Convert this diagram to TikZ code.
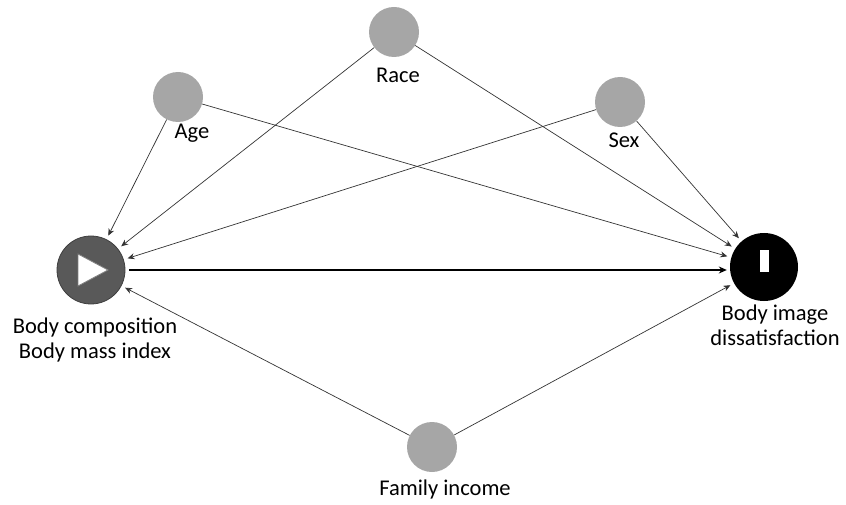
\documentclass[tikz,border=0pt]{standalone}
\usepackage{fontspec}
\setmainfont{Carlito}
\usetikzlibrary{arrows.meta}
\definecolor{cgray}{HTML}{A6A6A6}
\definecolor{expo}{HTML}{595959}
\definecolor{lin}{HTML}{333333}
\begin{document}
\begin{tikzpicture}[x=1pt,y=-1pt,
  cov/.style={circle,fill=cgray,minimum size=50pt,inner sep=0pt},
  lbl/.style={font=\fontsize{22.5}{25}\selectfont,align=center,inner sep=0pt},
  edge/.style={-{Stealth[length=7pt,width=6pt]},draw=lin,line width=0.7pt,shorten >=4pt},
  mainedge/.style={-{Stealth[length=8pt,width=7pt]},draw=black,line width=2pt,shorten >=3pt,shorten <=4pt}]
\useasboundingbox (0,0) rectangle (846,505);
\node[circle,fill=expo,draw=expo!70!black,line width=0.8pt,minimum size=68pt,inner sep=0pt] (X) at (91,270) {};
\fill[white,draw=gray,line width=0.8pt] (78,254) -- (78,286) -- (108,270) -- cycle;
\node[circle,fill=black,minimum size=68pt,inner sep=0pt] (Y) at (764,267) {};
\fill[white] (759.5,250) rectangle (768.5,272);
\node[cov] (race) at (394,32) {};
\node[cov] (age) at (178,97) {};
\node[cov] (sex) at (620,102) {};
\node[cov] (inc) at (432,447) {};
\node[lbl] (racel) at (398,75) {Race};
\node[lbl] (agel) at (192,133) {Age};
\node[lbl] (sexl) at (624,140) {Sex};
\node[lbl] (incl) at (445,489) {Family income};
\node[lbl] (Xl) at (95,340) {Body composition\\Body mass index};
\node[lbl] (Yl) at (775,325) {Body image\\dissatisfaction};
\draw[edge] (age) -- (X);
\draw[edge] (race) -- (X);
\draw[edge] (sex) -- (X);
\draw[edge] (inc) -- (X);
\draw[edge] (age) -- (Y);
\draw[edge] (race) -- (Y);
\draw[edge] (sex) -- (Y);
\draw[edge] (inc) -- (Y);
\draw[mainedge] (X.east) -- (Y.west|-X.east);
\end{tikzpicture}
\end{document}
